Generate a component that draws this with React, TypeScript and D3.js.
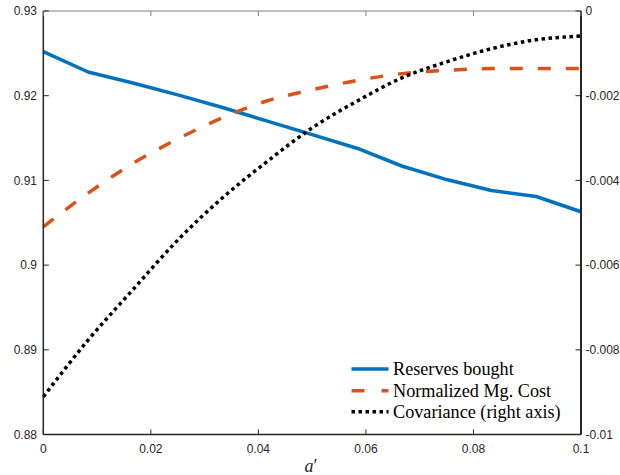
import React from "react";
import * as d3 from "d3";

const xValues = [0, 1 / 120, 2 / 120, 3 / 120, 4 / 120, 5 / 120, 6 / 120, 7 / 120, 8 / 120, 9 / 120, 10 / 120, 11 / 120, 12 / 120];
const reservesBought = [0.9252, 0.9228, 0.9215, 0.9201, 0.9186, 0.917, 0.9154, 0.9138, 0.9117, 0.9101, 0.9088, 0.9081, 0.9063];
const normalizedMgCost = [0.9045, 0.9085, 0.912, 0.9149, 0.9174, 0.9194, 0.9207, 0.9218, 0.9226, 0.923, 0.9232, 0.9232, 0.9232];
const covariance = [-0.00911, -0.00777, -0.00658, -0.00541, -0.00441, -0.00355, -0.00276, -0.00213, -0.00158, -0.00120, -0.00089, -0.00068, -0.00059];

const xTicks = [0, 0.02, 0.04, 0.06, 0.08, 0.1];
const xTickLabels = ["0", "0.02", "0.04", "0.06", "0.08", "0.1"];
const leftTicks = [0.88, 0.89, 0.9, 0.91, 0.92, 0.93];
const leftTickLabels = ["0.88", "0.89", "0.9", "0.91", "0.92", "0.93"];
const rightTicks = [-0.01, -0.008, -0.006, -0.004, -0.002, 0];
const rightTickLabels = ["-0.01", "-0.008", "-0.006", "-0.004", "-0.002", "0"];
const legendLabels = ["Reserves bought", "Normalized Mg. Cost", "Covariance (right axis)"];

const L = 43.3, R = 581, T = 11, B = 434.5;
const axisColor = "#262626";

export default function App() {
  const x = d3.scaleLinear().domain([0, 0.1]).range([L, R]);
  const yL = d3.scaleLinear().domain([0.88, 0.93]).range([B, T]);
  const yR = d3.scaleLinear().domain([-0.01, 0]).range([B, T]);

  const lineL = d3.line<number>().x((_, i) => x(xValues[i])).y((d) => yL(d));
  const lineR = d3.line<number>().x((_, i) => x(xValues[i])).y((d) => yR(d)).curve(d3.curveMonotoneX);
  const lineLs = d3.line<number>().x((_, i) => x(xValues[i])).y((d) => yL(d)).curve(d3.curveMonotoneX);

  const tickFont = "'Liberation Sans', Arial, sans-serif";
  const serif = "'Liberation Serif', 'Times New Roman', serif";

  const legendX1 = 351.5, legendX2 = 388.5, legendTextX = 393;
  const legendYs = [369, 390.7, 411.7];
  const styles = [
    { stroke: "#0072BD", dash: undefined as string | undefined },
    { stroke: "#D95319", dash: "13 17" },
    { stroke: "#000000", dash: "3.5 3.5" },
  ];

  return (
    <svg width={620} height={475} style={{ position: "absolute", left: 0, top: 0, background: "#fff" }}>
      <rect x={0} y={0} width={620} height={475} fill="#fff" />
      <line x1={L} x2={R} y1={T} y2={T} stroke="#808080" strokeWidth={1} />
      <path d={lineL(reservesBought) || ""} fill="none" stroke="#0072BD" strokeWidth={3.5} strokeLinejoin="round" />
      <path d={lineLs(normalizedMgCost) || ""} fill="none" stroke="#D95319" strokeWidth={3.5} strokeDasharray="13 15" />
      <path d={lineR(covariance) || ""} fill="none" stroke="#000" strokeWidth={3.5} strokeDasharray="3.5 3.5" />
      <line x1={L} x2={L} y1={T} y2={B} stroke={axisColor} strokeWidth={1.5} />
      <line x1={L} x2={R} y1={B} y2={B} stroke={axisColor} strokeWidth={1.5} />
      <line x1={R} x2={R} y1={T} y2={B} stroke={axisColor} strokeWidth={2} />
      {xTicks.map((t, i) => (
        <g key={"x" + i}>
          <line x1={x(t)} x2={x(t)} y1={B} y2={B - 5} stroke={axisColor} strokeWidth={1} />
          <line x1={x(t)} x2={x(t)} y1={T} y2={T + 5} stroke="#808080" strokeWidth={1} />
          <text x={x(t)} y={452.5} textAnchor="middle" fontFamily={tickFont} fontSize={12} fill={axisColor}>
            {xTickLabels[i]}
          </text>
        </g>
      ))}
      {leftTicks.map((t, i) => (
        <g key={"l" + i}>
          <line x1={L} x2={L + 5.5} y1={yL(t)} y2={yL(t)} stroke={axisColor} strokeWidth={1} />
          <text x={37} y={yL(t) + 4.3} textAnchor="end" fontFamily={tickFont} fontSize={12} fill={axisColor}>
            {leftTickLabels[i]}
          </text>
        </g>
      ))}
      {rightTicks.map((t, i) => (
        <g key={"r" + i}>
          <line x1={R} x2={R - 5.5} y1={yR(t)} y2={yR(t)} stroke={axisColor} strokeWidth={1} />
          <text x={585.5} y={yR(t) + 4.3} textAnchor="start" fontFamily={tickFont} fontSize={12} fill={axisColor}>
            {rightTickLabels[i]}
          </text>
        </g>
      ))}
      <text x={311} y={472} textAnchor="middle" fontFamily={serif} fontStyle="italic" fontSize={18} fill={axisColor}>
        a<tspan fontStyle="normal">′</tspan>
      </text>
      {legendLabels.map((lab, i) => (
        <g key={"lg" + i}>
          <line x1={legendX1} x2={legendX2} y1={legendYs[i]} y2={legendYs[i]} stroke={styles[i].stroke} strokeWidth={3.5} strokeDasharray={styles[i].dash} />
          <text x={legendTextX} y={legendYs[i] + 5.8} fontFamily={serif} fontSize={18.2} fill="#000">
            {lab}
          </text>
        </g>
      ))}
    </svg>
  );
}
